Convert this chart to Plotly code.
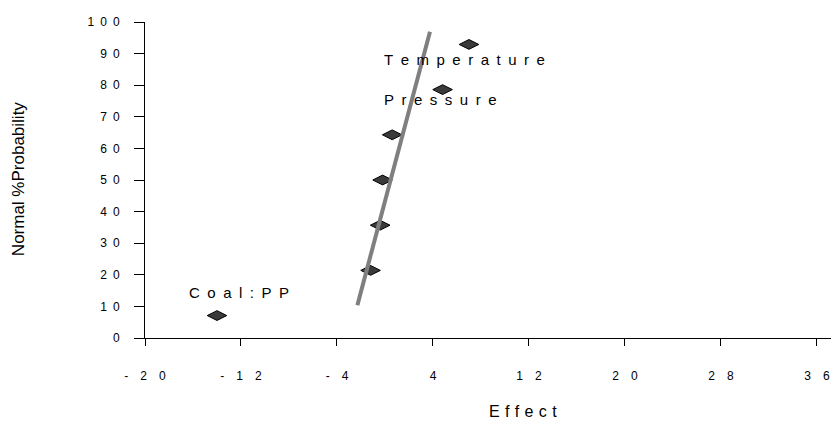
import plotly.graph_objects as go

# Effects (x) and normal probabilities (%)
effect_names = ["Coal:PP", "", "", "", "", "Pressure", "Temperature"]
effects = [-14.0, -1.2, -0.4, -0.2, 0.6, 4.8, 7.0]
norm_prob = [7.1, 21.4, 35.7, 50.0, 64.3, 78.6, 92.9]

# Fitted reference line endpoints
line_x = [-2.3, 3.75]
line_y = [10.4, 96.9]

x_tickvals = [-20, -12, -4, 4, 12, 20, 28, 36]
y_tickvals = [0, 10, 20, 30, 40, 50, 60, 70, 80, 90, 100]

FONT = "Arial, 'Liberation Sans', sans-serif"
EN = "\u2002"
EM = "\u2003"


def spaced(s, sep):
    return sep.join(list(s))


x_ticktext = [spaced(str(v), EM) for v in x_tickvals]
y_ticktext = [spaced(str(v), EN) for v in y_tickvals]

fig = go.Figure()

fig.add_trace(go.Scatter(
    x=effects, y=norm_prob, mode="markers",
    marker=dict(symbol="diamond-wide", size=14, color="#3a3a3a",
                line=dict(color="#000000", width=1)),
    showlegend=False, hoverinfo="x+y",
))

fig.add_trace(go.Scatter(
    x=line_x, y=line_y, mode="lines",
    line=dict(color="#7f7f7f", width=4),
    showlegend=False, hoverinfo="skip",
))

# label offsets (pixels) relative to each labelled point
label_shift = {"Temperature": (-87, -15), "Pressure": (-61, -10), "Coal:PP": (-30, 23)}
annotations = []
for name, xv, yv in zip(effect_names, effects, norm_prob):
    if not name:
        continue
    dx, dy = label_shift[name]
    annotations.append(dict(
        x=xv, y=yv, xref="x", yref="y", text=spaced(name, EN),
        showarrow=False, xanchor="left", yanchor="middle",
        xshift=dx, yshift=dy,
        font=dict(family=FONT, size=15, color="#000000"),
    ))

annotations.append(dict(
    x=0.551, y=-0.233, xref="paper", yref="paper", text=spaced("Effect", "\u2004"),
    showarrow=False, xanchor="center", yanchor="middle",
    font=dict(family=FONT, size=16, color="#000000"),
))
annotations.append(dict(
    x=-0.185, y=0.503, xref="paper", yref="paper", text="Normal %Probability",
    showarrow=False, textangle=-90, xanchor="center", yanchor="middle",
    font=dict(family=FONT, size=17, color="#000000"),
))

fig.update_layout(
    width=831, height=426,
    margin=dict(l=145, r=0, t=22, b=88),
    paper_bgcolor="white", plot_bgcolor="white",
    font=dict(family=FONT, size=12, color="#000000"),
    annotations=annotations,
    xaxis=dict(
        range=[-20, 37.17], tickvals=x_tickvals, ticktext=x_ticktext,
        showgrid=False, zeroline=False, showline=True, linecolor="#000000",
        linewidth=1, ticks="outside", ticklen=7, tickcolor="#000000",
        ticklabelstandoff=20, tickfont=dict(size=12, color="#000000"),
    ),
    yaxis=dict(
        range=[0, 100], tickvals=y_tickvals, ticktext=y_ticktext,
        showgrid=False, zeroline=False, showline=True, linecolor="#000000",
        linewidth=1, ticks="outside", ticklen=10, tickcolor="#000000",
        ticklabelstandoff=12, tickfont=dict(size=12, color="#000000"),
    ),
)

fig.write_html("out.html")
